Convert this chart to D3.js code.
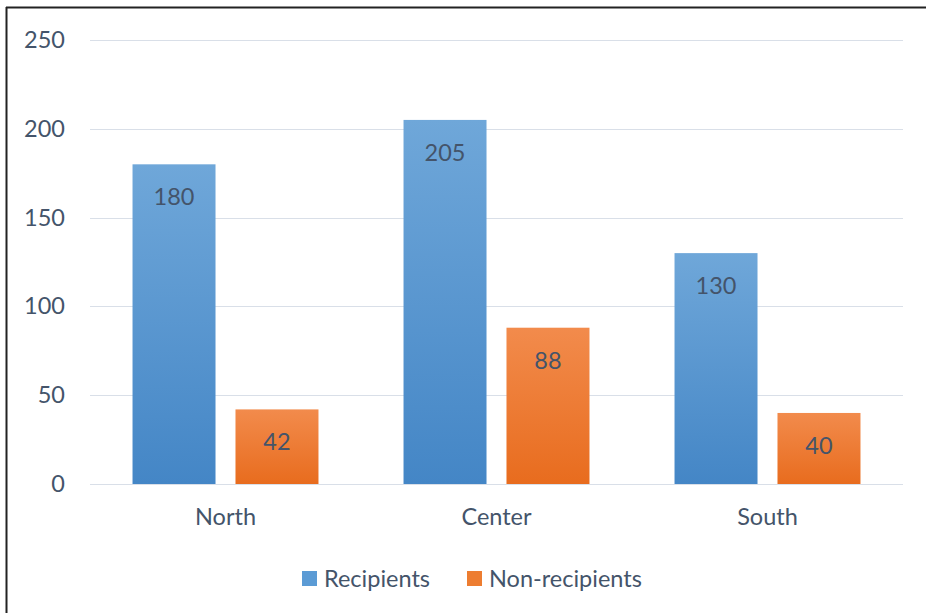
<!DOCTYPE html>
<html><head><meta charset="utf-8">
<script src="https://cdn.jsdelivr.net/npm/d3@7"></script>
<style>body{margin:0;background:#fff;} text{font-family:Lato,"Open Sans",sans-serif;}</style>
</head><body>
<svg id="c" width="926" height="613"></svg>
<script>
const categories = ["North","Center","South"];
const seriesNames = ["Recipients","Non-recipients"];
const recipients = [180,205,130];
const nonRecipients = [42,88,40];
const yTicks = [0,50,100,150,200,250];

const svg = d3.select("#c");
const W=926,H=613;
const m={left:90,right:23,top:40,bottom:129};
const textColor="#44546A";
const fs="23.5px";

// border (top & left visible)
svg.append("line").attr("x1",6).attr("x2",W).attr("y1",7.5).attr("y2",7.5).attr("stroke","#222").attr("stroke-width",2);
svg.append("line").attr("x1",6.5).attr("x2",6.5).attr("y1",7).attr("y2",H).attr("stroke","#222").attr("stroke-width",2);

const defs=svg.append("defs");
function grad(id,c1,c2){const g=defs.append("linearGradient").attr("id",id).attr("x1",0).attr("x2",0).attr("y1",0).attr("y2",1);
g.append("stop").attr("offset","0%").attr("stop-color",c1);g.append("stop").attr("offset","100%").attr("stop-color",c2);}
grad("gb","#6FA7D9","#4486C6");
grad("go","#F28B4C","#E86C1E");

const x=d3.scaleBand().domain(categories).range([m.left,W-m.right]);
const x1=d3.scaleBand().domain(seriesNames).range([0,x.bandwidth()]).paddingInner(0.194).paddingOuter(0.413);
const y=d3.scaleLinear().domain([0,250]).range([H-m.bottom,m.top]);

// gridlines
svg.append("g").selectAll("line").data(yTicks).join("line")
 .attr("x1",m.left).attr("x2",W-m.right).attr("y1",d=>Math.round(y(d))+0.5).attr("y2",d=>Math.round(y(d))+0.5)
 .attr("stroke","#D9DFE8").attr("stroke-width",1.2);

// y axis labels
const ya=svg.append("g").attr("transform",`translate(${m.left-25},0)`).call(d3.axisLeft(y).tickValues(yTicks).tickSize(0).tickPadding(0));
ya.select(".domain").remove();
ya.selectAll("text").attr("fill",textColor).style("font-size",fs).style("font-family","Lato,'Open Sans',sans-serif");

// x axis labels
const xa=svg.append("g").attr("transform",`translate(0,${H-m.bottom+14})`).call(d3.axisBottom(x).tickSize(0).tickPadding(10));
xa.select(".domain").remove();
xa.selectAll("text").attr("fill",textColor).style("font-size",fs).style("font-family","Lato,'Open Sans',sans-serif");

const data=categories.map((c,i)=>({cat:c,vals:[{s:seriesNames[0],v:recipients[i],f:"url(#gb)"},{s:seriesNames[1],v:nonRecipients[i],f:"url(#go)"}]}));
const g=svg.append("g").selectAll("g").data(data).join("g").attr("transform",d=>`translate(${x(d.cat)},0)`);
g.selectAll("rect").data(d=>d.vals).join("rect")
 .attr("x",d=>x1(d.s)).attr("width",x1.bandwidth()).attr("y",d=>y(d.v)).attr("height",d=>y(0)-y(d.v)).attr("fill",d=>d.f);
g.selectAll("text").data(d=>d.vals).join("text")
 .attr("x",d=>x1(d.s)+x1.bandwidth()/2).attr("y",d=>y(d.v)+41).attr("text-anchor","middle")
 .attr("fill",textColor).style("font-size",fs).text(d=>d.v);

// legend
const lg=svg.append("g");
const items=[{s:seriesNames[0],c:"#5B9BD5",x:302},{s:seriesNames[1],c:"#ED7D31",x:467}];
items.forEach(it=>{
 lg.append("rect").attr("x",it.x).attr("y",571).attr("width",15).attr("height",15).attr("fill",it.c);
 lg.append("text").attr("x",it.x+22).attr("y",587).attr("fill",textColor).style("font-size",fs).text(it.s);
});
</script>
</body></html>
